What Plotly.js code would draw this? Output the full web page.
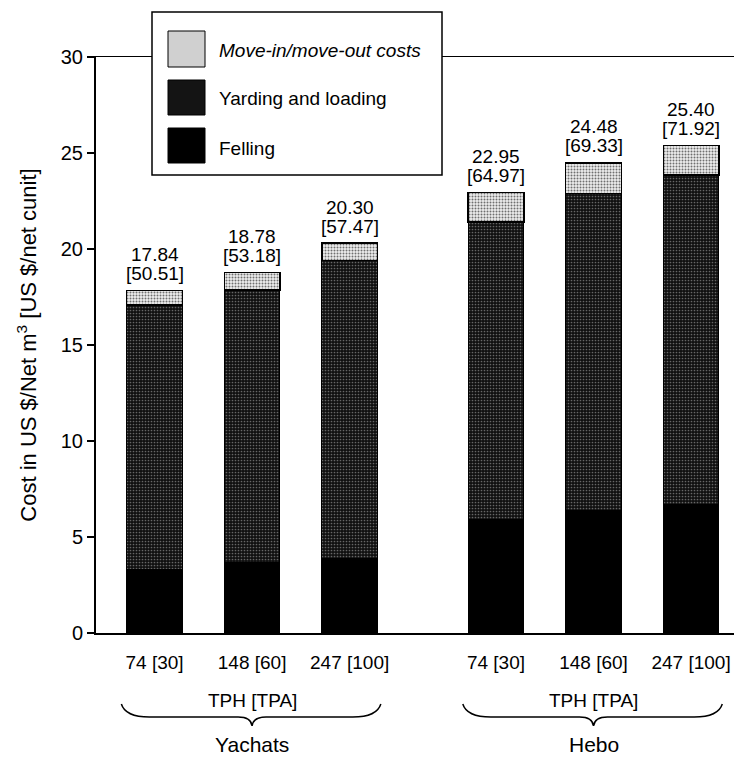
<!DOCTYPE html>
<html>
<head>
<meta charset="utf-8">
<script src="https://cdn.plot.ly/plotly-3.0.1.min.js"></script>
<style>html,body{margin:0;padding:0;background:#fff;}#chart{width:734px;height:759px;}</style>
</head>
<body>
<div id="chart"></div>
<script>
// ---- data ----
var sites = ["Yachats", "Hebo"];
var densityLabels = ["74 [30]", "148 [60]", "247 [100]"];
var felling   = [3.30, 3.65, 3.90, 5.89, 6.40, 6.67];
var yarding   = [13.78, 14.21, 15.50, 15.51, 16.50, 17.18];
var moveInOut = [0.76, 0.92, 0.90, 1.55, 1.58, 1.55];
var totalMetric   = ["17.84", "18.78", "20.30", "22.95", "24.48", "25.40"];
var totalImperial = ["[50.51]", "[53.18]", "[57.47]", "[64.97]", "[69.33]", "[71.92]"];
var seriesNames = ["Felling", "Yarding and loading", "Move-in/move-out costs"];
var axisGroupLabel = "TPH [TPA]";

// ---- layout helpers ----
var FONT = "Liberation Sans, Arial, Helvetica, sans-serif";
var W = 734, H = 759, ML = 96, MR = 0, MT = 57, MB = 126;
var xRange = [-0.6, 5.94];
var plotW = W - ML - MR, plotH = H - MT - MB;
function px(x) { return (x - ML) / plotW; }
function py(y) { return (H - MB - y) / plotH; }
function dataToPx(x) { return ML + (x - xRange[0]) / (xRange[1] - xRange[0]) * plotW; }

var xPos = [], tickText = [];
sites.forEach(function (s, g) {
  densityLabels.forEach(function (d, i) {
    xPos.push(g * 3.5 + i);
    tickText.push(d);
  });
});

var traces = [
  { type: "bar", name: seriesNames[0], x: xPos, y: felling, width: 0.57,
    marker: { color: "#000000", line: { color: "#000", width: 1 } } },
  { type: "bar", name: seriesNames[1], x: xPos, y: yarding, width: 0.57,
    marker: { color: "#1e1e1e", line: { color: "#000", width: 1 },
      pattern: { shape: ".", bgcolor: "#101010", fgcolor: "#666666", size: 3, solidity: 0.25 } } },
  { type: "bar", name: seriesNames[2], x: xPos, y: moveInOut, width: 0.57,
    marker: { color: "#cfcfcf", line: { color: "#000", width: 1.5 },
      pattern: { shape: ".", bgcolor: "#eeeeee", fgcolor: "#6f6f6f", size: 3, solidity: 0.35 } } }
];

var annotations = [];
var shapes = [];
xPos.forEach(function (x, i) {
  var top = felling[i] + yarding[i] + moveInOut[i];
  annotations.push({
    x: x, y: top, xref: "x", yref: "y", text: totalImperial[i], showarrow: false,
    yanchor: "middle", yshift: 17, font: { family: FONT, size: 19, color: "#000" }
  });
  annotations.push({
    x: x, y: top, xref: "x", yref: "y", text: totalMetric[i], showarrow: false,
    yanchor: "middle", yshift: 36, font: { family: FONT, size: 19, color: "#000" }
  });
});

sites.forEach(function (s, g) {
  var first = xPos[g * 3], last = xPos[g * 3 + 2];
  var L = dataToPx(first - 0.34), R = dataToPx(last + 0.32), C = dataToPx((first + last) / 2);
  annotations.push({ x: px(C), y: py(700), xref: "paper", yref: "paper", text: axisGroupLabel,
    showarrow: false, xanchor: "center", yanchor: "middle", font: { family: FONT, size: 19, color: "#000" } });
  annotations.push({ x: px(C), y: py(744), xref: "paper", yref: "paper", text: s,
    showarrow: false, xanchor: "center", yanchor: "middle", font: { family: FONT, size: 21, color: "#000" } });
  function P(x, y) { return px(x).toFixed(5) + "," + py(y).toFixed(5); }
  var path = "M" + P(L, 704) + " Q" + P(L + 4, 717) + " " + P(L + 28, 717) +
    " L" + P(C - 14, 717) + " Q" + P(C - 1, 717) + " " + P(C, 726) +
    " Q" + P(C + 1, 717) + " " + P(C + 14, 717) +
    " L" + P(R - 28, 717) + " Q" + P(R - 4, 717) + " " + P(R, 704);
  shapes.push({ type: "path", xref: "paper", yref: "paper", path: path,
    line: { color: "#000", width: 1.5 } });
});

// custom legend (large swatches as in the original)
shapes.push({ type: "rect", xref: "paper", yref: "paper", x0: px(152), x1: px(442), y0: py(175), y1: py(12),
  fillcolor: "#fff", line: { color: "#000", width: 1.5 }, layer: "above" });
var legendRows = [
  { name: seriesNames[2], top: 31, bot: 67, cy: 50, fill: "#d0d0d0", italic: true },
  { name: seriesNames[1], top: 80, bot: 115, cy: 98, fill: "#141414", italic: false },
  { name: seriesNames[0], top: 128, bot: 163, cy: 148, fill: "#000", italic: false }
];
legendRows.forEach(function (r) {
  shapes.push({ type: "rect", xref: "paper", yref: "paper", x0: px(168), x1: px(205), y0: py(r.bot), y1: py(r.top),
    fillcolor: r.fill, line: { color: "#000", width: 1 }, layer: "above" });
  annotations.push({ x: px(217), y: py(r.cy), xref: "paper", yref: "paper", xanchor: "left", yanchor: "middle",
    text: r.italic ? "<i>" + r.name + "</i>" : r.name, showarrow: false,
    font: { family: FONT, size: 19, color: "#000" } });
});

var layout = {
  width: W, height: H,
  margin: { l: ML, r: MR, t: MT, b: MB, pad: 0 },
  paper_bgcolor: "#fff", plot_bgcolor: "#fff",
  barmode: "stack", showlegend: false,
  font: { family: FONT, size: 19, color: "#000" },
  xaxis: {
    range: xRange, tickvals: xPos, ticktext: tickText, showgrid: false, zeroline: false,
    showline: true, mirror: true, linecolor: "#000", linewidth: 1.5, ticks: "",
    ticklabelstandoff: 12, tickfont: { family: FONT, size: 19, color: "#000" }
  },
  yaxis: {
    range: [0, 30], dtick: 5, showgrid: false, zeroline: false,
    showline: true, linecolor: "#000", linewidth: 2, ticks: "outside", ticklen: 7, tickwidth: 1.5,
    tickcolor: "#000", tickfont: { family: FONT, size: 20, color: "#000" },
    title: { text: "Cost in US $/Net m<sup>3</sup> [US $/net cunit]", font: { family: FONT, size: 22, color: "#000" }, standoff: 18 }
  },
  annotations: annotations,
  shapes: shapes
};

Plotly.newPlot("chart", traces, layout, { displayModeBar: false, staticPlot: true });
</script>
</body>
</html>
